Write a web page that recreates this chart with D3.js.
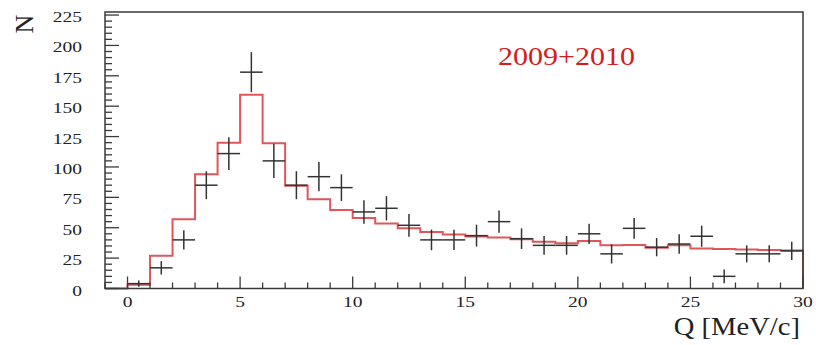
<!DOCTYPE html>
<html>
<head>
<meta charset="utf-8">
<script src="https://cdn.jsdelivr.net/npm/d3@7"></script>
<style>
  html, body { margin: 0; padding: 0; background: #fff; }
  svg { display: block; }
  text { font-family: "Liberation Serif", "DejaVu Serif", serif; }
</style>
</head>
<body>
<svg id="chart" width="816" height="345"></svg>
<script>
// ---- data ----
const binCenters = [0.5,1.5,2.5,3.5,4.5,5.5,6.5,7.5,8.5,9.5,10.5,11.5,12.5,13.5,14.5,15.5,16.5,17.5,18.5,19.5,20.5,21.5,22.5,23.5,24.5,25.5,26.5,27.5,28.5,29.5];
const counts = [4,17,40,85,111,178,105,85,92,83,63,66,52,40,40,43.5,55,41,35.5,35.5,45,28.5,49.5,34,36.6,43,10,28.5,28.5,31];
const errors = [2.5,5.5,8,11.5,13.4,16.5,14,11.5,12,11,9.7,10,9.4,8.5,8.4,9,9.2,8.5,7.7,7.7,8.3,7.9,8.5,7.5,8,8.7,5.7,7,7,7.5];
const binWidth = 1;
const fitLowEdges = [-1,0,1,2,3,4,5,6,7,8,9,10,11,12,13,14,15,16,17,18,19,20,21,22,23,24,25,26,27,28,29];
const fitValues = [0,3,27,57,94,120,159.5,119.5,84.5,73.5,64.5,58,53.5,49.5,46.5,44.5,42.8,42,40.5,38.5,37.2,39,35.5,35.8,33.5,35.5,33,32.5,32,31.7,31.2];
const xTicks = [0,5,10,15,20,25,30];
const yTicks = [0,25,50,75,100,125,150,175,200,225];
const labelText = "2009+2010";
const xTitle = "Q [MeV/c]";
const yTitle = "N";

// ---- layout ----
const svg = d3.select("#chart");
const padL = 105, padR = 803, padT = 12, padB = 288.5;
const x = d3.scaleLinear().domain([-1, 30]).range([padL, padR]);
const y = d3.scaleLinear().domain([0, 227.5]).range([padB, padT]);

const frameColor = "#3a3a3a";
const serif = "'Liberation Serif', 'Times New Roman', serif";

// histogram (red)
const pts = fitLowEdges.map((e, i) => [e, fitValues[i]]);
pts.push([30, fitValues[fitValues.length - 1]]);
pts.push([30, 0]);
const line = d3.line().x(d => x(d[0])).y(d => y(d[1])).curve(d3.curveStepAfter);
svg.append("path")
  .attr("d", line(pts))
  .attr("fill", "none")
  .attr("stroke", "#e0565a")
  .attr("stroke-width", 2);

// data crosses
const g = svg.append("g").attr("stroke", "#333").attr("stroke-width", 1.5);
binCenters.forEach((c, i) => {
  g.append("line")
    .attr("x1", x(c - binWidth / 2)).attr("x2", x(c + binWidth / 2))
    .attr("y1", y(counts[i])).attr("y2", y(counts[i]));
  g.append("line")
    .attr("x1", x(c)).attr("x2", x(c))
    .attr("y1", y(Math.max(0, counts[i] - errors[i]))).attr("y2", y(counts[i] + errors[i]));
});

// frame
svg.append("rect")
  .attr("x", padL).attr("y", padT)
  .attr("width", padR - padL).attr("height", padB - padT)
  .attr("fill", "none").attr("stroke", frameColor).attr("stroke-width", 1.5);

// y ticks
const yMinor = d3.range(0, 226, 5);
svg.append("g").selectAll("line").data(yMinor).join("line")
  .attr("x1", padL).attr("x2", d => padL + (d % 25 === 0 ? 14 : 7))
  .attr("y1", d => y(d)).attr("y2", d => y(d))
  .attr("stroke", frameColor).attr("stroke-width", 1.3);

// x ticks
const xMinor = d3.range(-1, 31, 1);
svg.append("g").selectAll("line").data(xMinor).join("line")
  .attr("x1", d => x(d)).attr("x2", d => x(d))
  .attr("y1", padB).attr("y2", d => padB - (d % 5 === 0 ? 12 : 6))
  .attr("stroke", frameColor).attr("stroke-width", 1.3);

// y tick labels
svg.append("g").selectAll("text").data(yTicks).join("text")
  .attr("transform", d => `translate(82,${y(d) + 7}) scale(1.3,1)`)
  .attr("text-anchor", "end")
  .attr("font-family", serif)
  .attr("font-size", 15)
  .attr("fill", "#222")
  .text(d => d);

// x tick labels
svg.append("g").selectAll("text").data(xTicks).join("text")
  .attr("transform", d => `translate(${x(d)},307) scale(1.3,1)`)
  .attr("text-anchor", "middle")
  .attr("font-family", serif)
  .attr("font-size", 15)
  .attr("fill", "#222")
  .text(d => d);

// axis titles
svg.append("text")
  .attr("transform", "translate(800,335) scale(1.1,1)")
  .attr("text-anchor", "end")
  .attr("font-family", serif)
  .attr("font-size", 26)
  .attr("fill", "#222")
  .text(xTitle);

svg.append("text")
  .attr("transform", "translate(33,24) rotate(-90)")
  .attr("text-anchor", "middle")
  .attr("font-family", serif)
  .attr("font-size", 26)
  .attr("fill", "#222")
  .text(yTitle);

// label
svg.append("text")
  .attr("transform", "translate(498,65) scale(1.2,1)")
  .attr("font-family", serif)
  .attr("font-size", 25)
  .attr("fill", "#d41c1c")
  .text(labelText);
</script>
</body>
</html>
